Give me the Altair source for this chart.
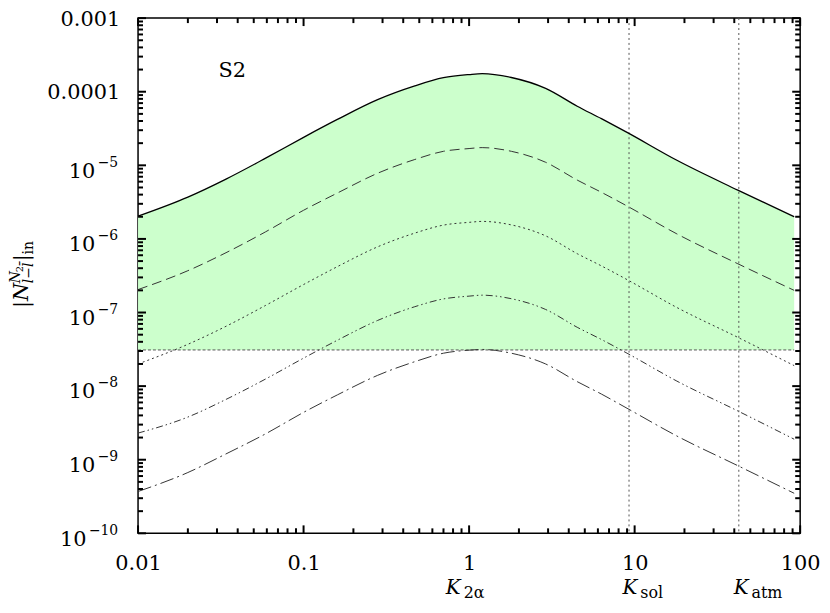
import math
import altair as alt
import pandas as pd

# ---------------- data ----------------
K = [0.01, 0.02, 0.034, 0.059, 0.1, 0.16, 0.28, 0.47, 0.7, 1.0, 1.2, 1.8, 2.9,
     4.5, 6.3, 9.0, 18, 42, 92]
solid = [2.04e-6, 3.7e-6, 6.5e-6, 1.25e-5, 2.4e-5, 4.2e-5, 7.8e-5, 1.2e-4, 1.55e-4,
         1.71e-4, 1.76e-4, 1.56e-4, 1.11e-4, 6.35e-5, 4.3e-5, 2.8e-5, 1.17e-5, 4.6e-6, 2.0e-6]
dashed = [2.05e-7, 3.7e-7, 6.5e-7, 1.25e-6, 2.45e-6, 4.2e-6, 7.8e-6, 1.2e-5, 1.55e-5,
          1.69e-5, 1.74e-5, 1.55e-5, 1.1e-5, 6.3e-6, 4.3e-6, 2.8e-6, 1.17e-6, 4.6e-7, 2.0e-7]
dotted = [2.0e-8, 3.7e-8, 6.5e-8, 1.25e-7, 2.4e-7, 4.2e-7, 7.8e-7, 1.2e-6, 1.54e-6,
          1.68e-6, 1.73e-6, 1.55e-6, 1.1e-6, 6.3e-7, 4.3e-7, 2.8e-7, 1.17e-7, 4.6e-8, 1.9e-8]
dashdotdot = [2.3e-9, 3.8e-9, 6.6e-9, 1.25e-8, 2.4e-8, 4.2e-8, 7.8e-8, 1.2e-7, 1.53e-7,
              1.67e-7, 1.72e-7, 1.54e-7, 1.1e-7, 6.3e-8, 4.3e-8, 2.8e-8, 1.17e-8, 4.6e-9, 1.9e-9]
dashdot = [3.7e-10, 6.7e-10, 1.2e-9, 2.25e-9, 4.4e-9, 7.6e-9, 1.4e-8, 2.15e-8, 2.8e-8,
           3.08e-8, 3.15e-8, 2.8e-8, 2.0e-8, 1.15e-8, 7.8e-9, 5.0e-9, 2.1e-9, 8.3e-10, 3.5e-10]
hline_level = 3.1e-8
k_lines = [9.25, 42.6]

x_tick_vals = [0.01, 0.1, 1, 10, 100]
x_tick_labels = ["0.01", "0.1", "1", "10", "100"]
x_minor_ticks = [0.02, 0.03, 0.04, 0.05, 0.06, 0.07, 0.08, 0.09,
                 0.2, 0.3, 0.4, 0.5, 0.6, 0.7, 0.8, 0.9,
                 2, 3, 4, 5, 6, 7, 8, 9, 20, 30, 40, 50, 60, 70, 80, 90]
y_tick_vals = [1e-3, 1e-4, 1e-5, 1e-6, 1e-7, 1e-8, 1e-9, 1e-10]
y_tick_base = ["0.001", "0.0001", "10", "10", "10", "10", "10", "10"]
y_tick_exp = ["", "", "\u22125", "\u22126", "\u22127", "\u22128", "\u22129", "\u221210"]
y_minor_ticks = [m * 10.0 ** e for e in range(-10, -3) for m in range(2, 10)]

# ---------------- layout ----------------
W, H = 667, 519
FONT = "DejaVu Serif"
XMIN, XMAX, YMIN, YMAX = 0.01, 100, 1e-10, 1e-3
xs = alt.Scale(type="log", domain=[XMIN, XMAX], nice=False)
ys = alt.Scale(type="log", domain=[YMIN, YMAX], nice=False)
PX_PER_DEC_X = W / math.log10(XMAX / XMIN)
PX_PER_DEC_Y = H / math.log10(YMAX / YMIN)

expr = "''"
for v, l in reversed(list(zip(x_tick_vals, x_tick_labels))):
    expr = f"abs(log(datum.value)/LN10 - ({math.log10(v)})) < 0.01 ? '{l}' : " + expr
x_axis = alt.Axis(values=x_tick_vals, labelExpr=expr, ticks=False, tickSize=0,
                  domain=False, grid=False, labelPadding=19, labelFont=FONT,
                  labelFontSize=21, labelColor="black", title=None,
                  labelFlush=False, labelOverlap=False)

curves_df = pd.DataFrame({"K": K, "solid": solid, "dashed": dashed, "dotted": dotted,
                          "dashdotdot": dashdotdot, "dashdot": dashdot,
                          "base": [hline_level] * len(K)})

X = alt.X("K:Q", scale=xs, axis=x_axis)

area = alt.Chart(curves_df).mark_area(color="#ccffcc", interpolate="monotone").encode(
    x=X, y=alt.Y("solid:Q", scale=ys, axis=None), y2="base:Q")

hl_df = pd.DataFrame({"x1": [K[0]], "x2": [K[-1]], "y": [hline_level]})
hline = alt.Chart(hl_df).mark_rule(color="#555555", strokeWidth=1, strokeDash=[3, 2]).encode(
    x=alt.X("x1:Q", scale=xs, axis=x_axis), x2="x2:Q", y=alt.Y("y:Q", scale=ys, axis=None))

vl_df = pd.DataFrame({"K": k_lines})
vlines = alt.Chart(vl_df).mark_rule(color="#555555", strokeWidth=1, strokeDash=[2, 3]).encode(x=X)


def curve(col, dash, color, width):
    kw = {"strokeDash": dash} if dash else {}
    return alt.Chart(curves_df).mark_line(interpolate="monotone", color=color,
                                          strokeWidth=width, **kw).encode(
        x=X, y=alt.Y(f"{col}:Q", scale=ys, axis=None))


lines = [
    curve("solid", None, "black", 1.3),
    curve("dashed", [10, 5], "#333333", 1),
    curve("dotted", [2, 3], "#333333", 1),
    curve("dashdotdot", [7, 3, 1.5, 3, 1.5, 3], "#333333", 1),
    curve("dashdot", [14, 4, 2, 4], "#333333", 1),
]

# ---------------- ticks (inside, all four sides) ----------------
tick_layers = []
for vals_x, vals_y, L in [(x_tick_vals, y_tick_vals, 8), (x_minor_ticks, y_minor_ticks, 5)]:
    fy = 10 ** (L / PX_PER_DEC_Y)
    fx = 10 ** (L / PX_PER_DEC_X)
    xdf = pd.DataFrame({"tx": vals_x, "b0": YMIN, "b1": YMIN * fy,
                        "u0": YMAX, "u1": YMAX / fy})
    ydf = pd.DataFrame({"ty": vals_y, "l0": XMIN, "l1": XMIN * fx,
                        "r0": XMAX, "r1": XMAX / fx})
    xe = alt.X("tx:Q", scale=xs, axis=x_axis)
    ye = alt.Y("ty:Q", scale=ys, axis=None)
    rx = alt.Chart(xdf).mark_rule(color="#000000", strokeWidth=2, opacity=1)
    ry = alt.Chart(ydf).mark_rule(color="#000000", strokeWidth=2, opacity=1)
    tick_layers += [
        rx.encode(x=xe, y=alt.Y("b0:Q", scale=ys, axis=None), y2="b1:Q"),
        rx.encode(x=xe, y=alt.Y("u0:Q", scale=ys, axis=None), y2="u1:Q"),
        ry.encode(y=ye, x=alt.X("l0:Q", scale=xs, axis=x_axis), x2="l1:Q"),
        ry.encode(y=ye, x=alt.X("r0:Q", scale=xs, axis=x_axis), x2="r1:Q"),
    ]

# ---------------- y tick labels ----------------
ylab = pd.DataFrame({"v": y_tick_vals, "base": y_tick_base, "exp": y_tick_exp})
YE = alt.Y("v:Q", scale=ys, axis=None)
ylabels = [
    alt.Chart(ylab).transform_filter("datum.exp == ''").mark_text(
        align="right", baseline="middle", dy=1.5, font=FONT, fontSize=21, color="black"
    ).encode(x=alt.value(-18), y=YE, text="base:N"),
    alt.Chart(ylab).transform_filter("datum.exp != '' && length(datum.exp) <= 2").mark_text(
        align="right", baseline="middle", dy=6.4, font=FONT, fontSize=21, color="black"
    ).encode(x=alt.value(-43), y=YE, text="base:N"),
    alt.Chart(ylab).transform_filter("length(datum.exp) > 2").mark_text(
        align="right", baseline="middle", dy=6.4, font=FONT, fontSize=21, color="black"
    ).encode(x=alt.value(-52), y=YE, text="base:N"),
    alt.Chart(ylab).transform_filter("datum.exp != ''").mark_text(
        align="right", baseline="middle", dy=-2.7, font=FONT, fontSize=14, color="black"
    ).encode(x=alt.value(-20), y=YE, text="exp:N"),
]

# ---------------- annotations ----------------
one = pd.DataFrame({"a": [0]})


def txt(s, x, y, size, style="normal", angle=0):
    return alt.Chart(one).mark_text(
        text=s, align="left", baseline="alphabetic", font=FONT, fontSize=size,
        fontStyle=style, angle=angle, color="black"
    ).encode(x=alt.value(x), y=alt.value(y))


annots = [
    txt("S2", 81, 59, 21),
    # x-axis names
    txt("K", 310, 580, 20, "italic"), txt("2\u03b1", 328, 584, 16),
    txt("K", 488, 580, 20, "italic"), txt("sol", 506, 584, 16),
    txt("K", 600, 580, 20, "italic"), txt("atm", 618, 584, 16),
    # rotated y-axis title |N^{N2}_{l-lbar}|_in
    txt("|", -111, 292, 21, angle=270),
    txt("N", -111, 285, 21, "italic", angle=270),
    txt("N", -119, 267, 14, "italic", angle=270),
    txt("2", -116, 256, 10, angle=270),
    txt("l\u2212l\u0304", -106, 267, 14, "italic", angle=270),
    txt("|", -111, 245, 21, angle=270),
    txt("in", -106, 238, 14, angle=270),
]

chart = alt.layer(area, hline, vlines, *lines, *ylabels, *annots, *tick_layers).properties(
    width=W, height=H,
    padding={"left": 131, "top": 8, "right": 22, "bottom": 68},
    autosize=alt.AutoSizeParams(type="none"),
    background="white",
).configure_view(stroke="black", strokeWidth=1.5)

chart.save("out.html", embed_options={"renderer": "svg", "actions": False})
